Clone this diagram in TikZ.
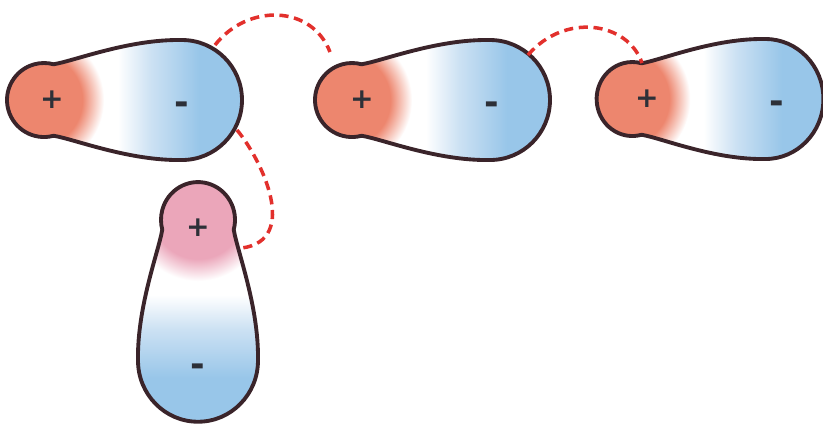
\documentclass[tikz,border=0pt]{standalone}
\usepackage{fontspec}
\setsansfont{DejaVu Sans}
\usetikzlibrary{positioning,calc}

\definecolor{plusred}{RGB}{237,134,110}
\definecolor{pluspink}{RGB}{235,166,186}
\definecolor{negblue}{RGB}{152,198,233}
\definecolor{midblue}{RGB}{204,225,243}
\definecolor{rimcol}{RGB}{58,36,42}
\definecolor{bondred}{RGB}{226,48,44}
\definecolor{signgray}{RGB}{45,48,56}

% fills: white body turning blue towards the negative end
\pgfdeclarehorizontalshading{dipolefill}{100bp}{color(0bp)=(white); color(49bp)=(white);
    color(56bp)=(midblue); color(66bp)=(negblue); color(100bp)=(negblue)}
\pgfdeclareverticalshading{dipolefillv}{100bp}{color(0bp)=(negblue); color(34bp)=(negblue);
    color(44bp)=(midblue); color(51bp)=(white); color(100bp)=(white)}
% soft coloured patch at the positive end
\pgfdeclareradialshading{redblob}{\pgfpoint{0bp}{0bp}}{color(0bp)=(plusred); color(17bp)=(plusred);
    color(25bp)=(white); color(50bp)=(white)}
\pgfdeclareradialshading{pinkblob}{\pgfpoint{0bp}{0bp}}{color(0bp)=(pluspink); color(17bp)=(pluspink);
    color(25bp)=(white); color(50bp)=(white)}

% outline of one molecule, + end at the origin, axis along x
\newcommand{\dipolepath}{(-0.42,35.74) arc[start angle=75,end angle=285,radius=37]
    .. controls (20,-39) and (75,-61) .. (128,-60)
    arc[start angle=-90,end angle=90,radius=60]
    .. controls (75,61) and (20,39) .. cycle}

\tikzset{
    lobe/.style = {
        draw=rimcol,
        line width=1.1pt,
        line join=round
    },
    poschg/.style = {
        font=\sffamily\bfseries\fontsize{8}{9}\selectfont,
        text=signgray,
        inner sep=0pt
    },
    negchg/.style = {
        font=\sffamily\bfseries\fontsize{10}{11}\selectfont,
        text=signgray,
        inner sep=0pt,
        yshift=-2.3pt
    },
    hbond/.style = {
        draw=bondred,
        line width=1pt,
        dash pattern=on 2.6pt off 1.6pt
    },
}

\begin{document}
\begin{tikzpicture}[x=0.01cm, y=-0.01cm]
    \useasboundingbox (0,0) rectangle (823,423);

    % first molecule
    \begin{scope}[shift={(54,100)}]
        \shade[shading=dipolefill] \dipolepath;
        \begin{scope}
            \clip \dipolepath;
            \shade[shading=redblob] (-18,0) circle (68);
        \end{scope}
        \path[lobe] \dipolepath;
        \node[poschg] (m1p) at (-2,0) {+};
        \node[negchg] (m1n) at (128,0) {-};
    \end{scope}

    % second molecule
    \begin{scope}[shift={(362,100)}]
        \shade[shading=dipolefill] \dipolepath;
        \begin{scope}
            \clip \dipolepath;
            \shade[shading=redblob] (-18,0) circle (68);
        \end{scope}
        \path[lobe] \dipolepath;
        \node[poschg] (m2p) at (0,0) {+};
        \node[negchg] (m2n) at (130,0) {-};
    \end{scope}

    % third molecule, a little narrower
    \begin{scope}[shift={(642,99)}, xscale=0.965]
        \shade[shading=dipolefill] \dipolepath;
        \begin{scope}
            \clip \dipolepath;
            \shade[shading=redblob] (-18,0) circle (68);
        \end{scope}
        \path[lobe] \dipolepath;
        \node[poschg] (m3p) at (5,0) {+};
        \node[negchg] (m3n) at (140,0) {-};
    \end{scope}

    % standing molecule, axis pointing down
    \begin{scope}[shift={(198,230)}, x={(0cm,-0.0102cm)}, y={(0.01cm,0cm)}]
        \shade[shading=dipolefillv] \dipolepath;
        \begin{scope}
            \clip \dipolepath;
            \shade[shading=pinkblob] (-18,0) circle (68);
        \end{scope}
        \path[lobe] \dipolepath;
        \node[poschg] (m4p) at (-2,0) {+};
        \node[negchg] (m4n) at (130,0) {-};
    \end{scope}

    % hydrogen bonds
    \coordinate (b1s) at (215,45);
    \coordinate (b1e) at (330,52);
    \coordinate (b2s) at (528,55);
    \coordinate (b2e) at (642,63);
    \coordinate (b3s) at (237,130);
    \coordinate (b3e) at (242,248);

    \path[hbond] (b1s) .. controls (248,3) and (312,5) .. (b1e);
    \path[hbond] (b2s) .. controls (565,12) and (628,22) .. (b2e);
    \path[hbond] (b3s) .. controls (262,160) and (300,240) .. (b3e);
\end{tikzpicture}
\end{document}
